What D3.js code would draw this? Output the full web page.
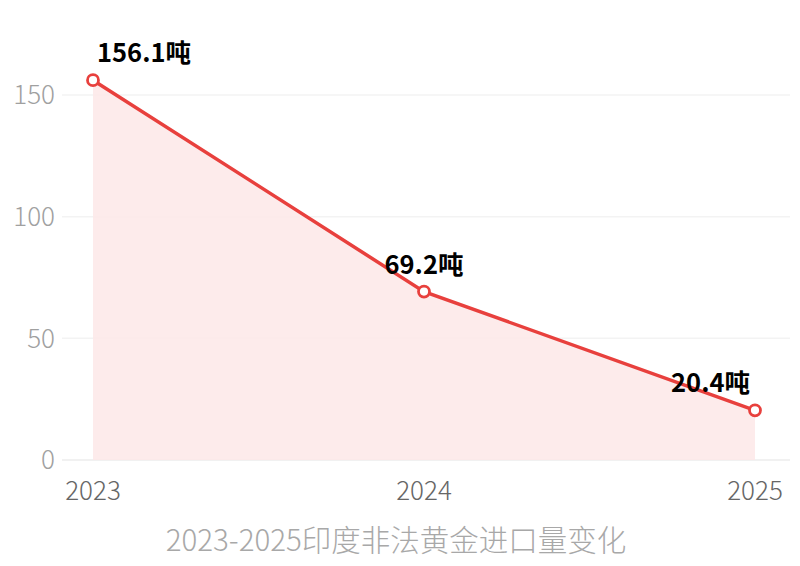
<!DOCTYPE html>
<html>
<head>
<meta charset="utf-8">
<script src="https://cdn.jsdelivr.net/npm/d3@7"></script>
<style>
  body { margin: 0; background: #fff; }
  text { font-family: "Noto Sans CJK SC", "Noto Sans", sans-serif; }
</style>
</head>
<body>
<div id="chart"></div>
<script>
var years = ['2023', '2024', '2025'];
var tons = [156.1, 69.2, 20.4];
var yTicks = [0, 50, 100, 150];
var title = '2023-2025印度非法黄金进口量变化';

var width = 800, height = 566;
var data = years.map((y, i) => ({ year: y, value: tons[i] }));

var x = d3.scalePoint().domain(years).range([93, 755]);
var y = d3.scaleLinear().domain([0, 150]).range([460, 95]);

var svg = d3.select('#chart').append('svg')
    .attr('width', width)
    .attr('height', height);

// grid lines
svg.append('g')
  .selectAll('line')
  .data(yTicks)
  .join('line')
    .attr('x1', 62)
    .attr('x2', 790)
    .attr('y1', d => y(d))
    .attr('y2', d => y(d))
    .attr('stroke', d => d === 0 ? '#ececec' : '#f3f3f3')
    .attr('stroke-width', 1.5);

// y tick labels
svg.append('g')
  .selectAll('text')
  .data(yTicks)
  .join('text')
    .attr('x', 55)
    .attr('y', d => y(d))
    .attr('dy', '0.36em')
    .attr('text-anchor', 'end')
    .attr('fill', '#a0a0a0')
    .style('font-size', '26px')
    .style('font-weight', 300)
    .text(d => d);

// x tick labels
svg.append('g')
  .selectAll('text')
  .data(years)
  .join('text')
    .attr('x', d => x(d))
    .attr('y', 500)
    .attr('text-anchor', 'middle')
    .attr('fill', '#666')
    .style('font-size', '26px')
    .style('font-weight', 300)
    .text(d => d);

// area
var area = d3.area()
    .x(d => x(d.year))
    .y0(y(0))
    .y1(d => y(d.value));

svg.append('path')
    .datum(data)
    .attr('d', area)
    .attr('fill', '#fde8e8')
    .attr('fill-opacity', 0.85);

// line
var line = d3.line()
    .x(d => x(d.year))
    .y(d => y(d.value));

svg.append('path')
    .datum(data)
    .attr('d', line)
    .attr('fill', 'none')
    .attr('stroke', '#e8403d')
    .attr('stroke-width', 3.5);

// points
svg.append('g')
  .selectAll('circle')
  .data(data)
  .join('circle')
    .attr('cx', d => x(d.year))
    .attr('cy', d => y(d.value))
    .attr('r', 5.5)
    .attr('fill', '#fff')
    .attr('stroke', '#e8403d')
    .attr('stroke-width', 2.8);

// value labels, kept inside the plot at the ends
svg.append('g')
  .selectAll('text')
  .data(data)
  .join('text')
    .attr('x', (d, i) => x(d.year) + (i === 0 ? 4 : i === data.length - 1 ? -5 : 0))
    .attr('y', d => y(d.value) - 18)
    .attr('text-anchor', (d, i) => i === 0 ? 'start' : i === data.length - 1 ? 'end' : 'middle')
    .attr('fill', '#000')
    .style('font-size', '25.5px')
    .style('font-weight', 'bold')
    .text(d => d.value + '吨');

// title
svg.append('text')
    .attr('x', 396)
    .attr('y', 551)
    .attr('text-anchor', 'middle')
    .attr('fill', '#a8a8a8')
    .style('font-size', '29.5px')
    .style('font-weight', 300)
    .text(title);
</script>
</body>
</html>
